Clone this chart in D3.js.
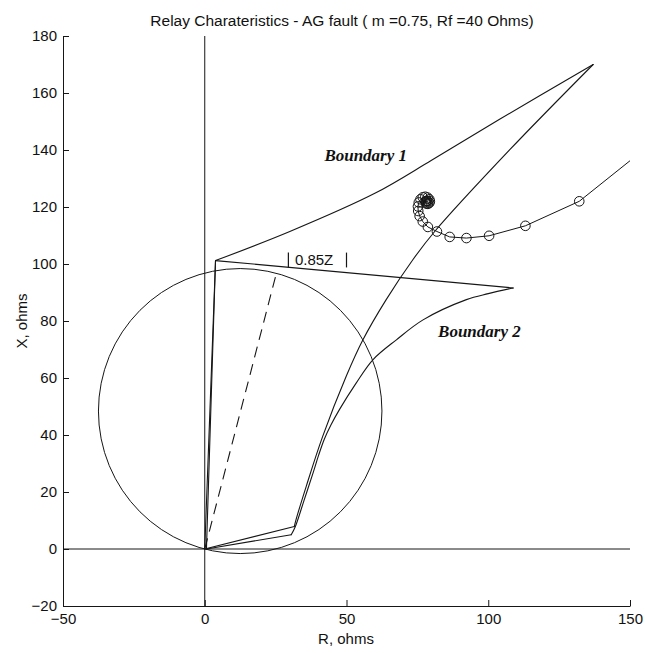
<!DOCTYPE html>
<html>
<head>
<meta charset="utf-8">
<script src="https://cdn.jsdelivr.net/npm/d3@7"></script>
<style>
  body { margin: 0; background: #fff; }
  svg text { font-family: "Liberation Sans", Arial, sans-serif; fill: #111; }
</style>
</head>
<body>
<svg id="chart" width="645" height="653"></svg>
<script>
// ---- data (R, X in ohms) ----
const rTicks = [-50, 0, 50, 100, 150];
const xTicks = [-20, 0, 20, 40, 60, 80, 100, 120, 140, 160, 180];

// mho circle: centre and radius
const mhoCenter = [12.5, 48.4];
const mhoRadius = 50;

// boundary 1: left edge, upper curve, right curve, bottom edge
const b1Left = [[0, 0], [3.8, 101.2]];
const b1Upper = [[3.8, 101.2], [30, 111.4], [60, 124.8], [80, 136.4], [104, 150.8], [137, 170]];
const b1Right = [
  [137, 170], [107.6, 140.1], [81.1, 111.4], [73.4, 101.5], [64, 87.5], [55.8, 73.4],
  [49.9, 60.6], [41.6, 39.5], [35.8, 22.0], [32.2, 10.3], [31.6, 7.9]
];
const b1Bottom = [[31.6, 7.9], [0, 0]];

// boundary 2: left edge, top line, lower curve, bottom edge
const b2Left = [[0.6, 0], [3.8, 101.2]];
const b2Top = [[3.8, 101.2], [108.8, 91.6]];
const b2Curve = [
  [108.8, 91.6], [100, 89.6], [92.3, 87.5], [77, 80.4], [67.6, 73.4], [59.3, 66.4],
  [53.4, 58.2], [47.5, 48.9], [44.5, 43.5], [42.2, 38.6], [40.2, 33], [38.3, 27],
  [35, 17], [32, 8], [30.5, 5]
];
const b2Bottom = [[30.5, 5], [0.6, 0]];

// zone-1 reach line (0.85 Z) and its dimension marks
const reachLine = [[0, 0], [25.2, 96.5]];
const reachMarks = [29.5, 50.0];

// apparent impedance trajectory during the fault
const trajectory = [
  [156, 141], [132.1, 122.0], [113.1, 113.4], [100.3, 109.9], [92.3, 109.1], [86.4, 109.5],
  [81.9, 111.4], [78.7, 113.0], [76.9, 114.9], [75.8, 116.8], [75.3, 118.6], [75.2, 120.2],
  [75.5, 121.6], [76.1, 122.7], [76.9, 123.4], [77.8, 123.6], [78.6, 123.3], [79.2, 122.7],
  [79.4, 122.0], [79.2, 121.4], [78.7, 121.1], [78.2, 121.2], [77.9, 121.6], [78.0, 122.0],
  [78.3, 122.2], [78.6, 122.0]
];

// ---- layout ----
const svg = d3.select("#chart");
const x = d3.scaleLinear().domain([-50, 150]).range([63, 630]);
const y = d3.scaleLinear().domain([-20, 180]).range([606, 36]);
const ink = "#161616";

svg.append("defs").append("clipPath").attr("id", "plotClip")
  .append("rect").attr("x", 63).attr("y", 36).attr("width", 567).attr("height", 570);

const plot = svg.append("g").attr("clip-path", "url(#plotClip)");

// reference axes through the origin
plot.append("line").attr("x1", x(-50)).attr("x2", x(150)).attr("y1", y(0)).attr("y2", y(0))
  .attr("stroke", ink).attr("stroke-width", 1);
plot.append("line").attr("x1", x(0)).attr("x2", x(0)).attr("y1", y(-20)).attr("y2", y(180))
  .attr("stroke", ink).attr("stroke-width", 1);

// mho circle
plot.append("ellipse")
  .attr("cx", x(mhoCenter[0])).attr("cy", y(mhoCenter[1]))
  .attr("rx", x(mhoRadius) - x(0)).attr("ry", y(0) - y(mhoRadius))
  .attr("fill", "none").attr("stroke", ink).attr("stroke-width", 1);

const straight = d3.line().x(d => x(d[0])).y(d => y(d[1]));
const smooth = d3.line().x(d => x(d[0])).y(d => y(d[1])).curve(d3.curveCatmullRom.alpha(0.5));

function stroke(sel, w) {
  return sel.attr("fill", "none").attr("stroke", ink).attr("stroke-width", w)
    .attr("stroke-linejoin", "round").attr("stroke-linecap", "round");
}

[b1Left, b1Bottom, b2Left, b2Top, b2Bottom].forEach(seg =>
  stroke(plot.append("path").attr("d", straight(seg)), 1.1));
[b1Upper, b1Right, b2Curve].forEach(seg =>
  stroke(plot.append("path").attr("d", smooth(seg)), 1.1));

plot.append("path").attr("d", straight(reachLine))
  .attr("fill", "none").attr("stroke", ink).attr("stroke-width", 1.1).attr("stroke-dasharray", "11,7");

// trajectory with markers
stroke(plot.append("path").attr("d", straight(trajectory)), 1);
plot.selectAll("circle.traj").data(trajectory).join("circle").attr("class", "traj")
  .attr("cx", d => x(d[0])).attr("cy", d => y(d[1])).attr("r", 4.8)
  .attr("fill", "none").attr("stroke", ink).attr("stroke-width", 1);

// 0.85Z annotation
reachMarks.forEach(r => {
  svg.append("line").attr("x1", x(r)).attr("x2", x(r)).attr("y1", y(104)).attr("y2", y(98.8))
    .attr("stroke", ink).attr("stroke-width", 1.2);
});
svg.append("text").attr("x", x(31.8)).attr("y", y(99.8)).attr("font-size", 15).text("0.85Z");

// boundary labels
const serif = '"Liberation Serif", "Times New Roman", serif';
svg.append("text").attr("x", x(42.2)).attr("y", y(136))
  .style("font-family", serif).attr("font-weight", "bold").attr("font-style", "italic")
  .attr("font-size", 17).text("Boundary 1");
svg.append("text").attr("x", x(82.3)).attr("y", y(74.5))
  .style("font-family", serif).attr("font-weight", "bold").attr("font-style", "italic")
  .attr("font-size", 17).text("Boundary 2");

// axes
const yAxis = d3.axisLeft(y).tickValues(xTicks).tickSizeInner(-6).tickSizeOuter(0).tickPadding(6);
const xAxis = d3.axisBottom(x).tickValues(rTicks).tickSizeInner(-6).tickSizeOuter(0).tickPadding(7);

const gy = svg.append("g").attr("transform", `translate(${x(-50)},0)`).call(yAxis);
const gx = svg.append("g").attr("transform", `translate(0,${y(-20)})`).call(xAxis);
[gy, gx].forEach(g => {
  g.selectAll("path, line").attr("stroke", ink);
  g.selectAll("text").attr("font-size", 15)
    .style("font-family", '"Liberation Sans", Arial, sans-serif').attr("fill", "#111");
});

// titles
svg.append("text").attr("x", 342).attr("y", 25.5).attr("text-anchor", "middle")
  .attr("font-size", 15.5).text("Relay Charateristics - AG fault ( m =0.75, Rf =40 Ohms)");
svg.append("text").attr("x", 346).attr("y", 644).attr("text-anchor", "middle").attr("font-size", 15)
  .text("R, ohms");
svg.append("text").attr("transform", `translate(27,${(y(-20) + y(180)) / 2}) rotate(-90)`)
  .attr("text-anchor", "middle").attr("font-size", 15).text("X, ohms");
</script>
</body>
</html>
